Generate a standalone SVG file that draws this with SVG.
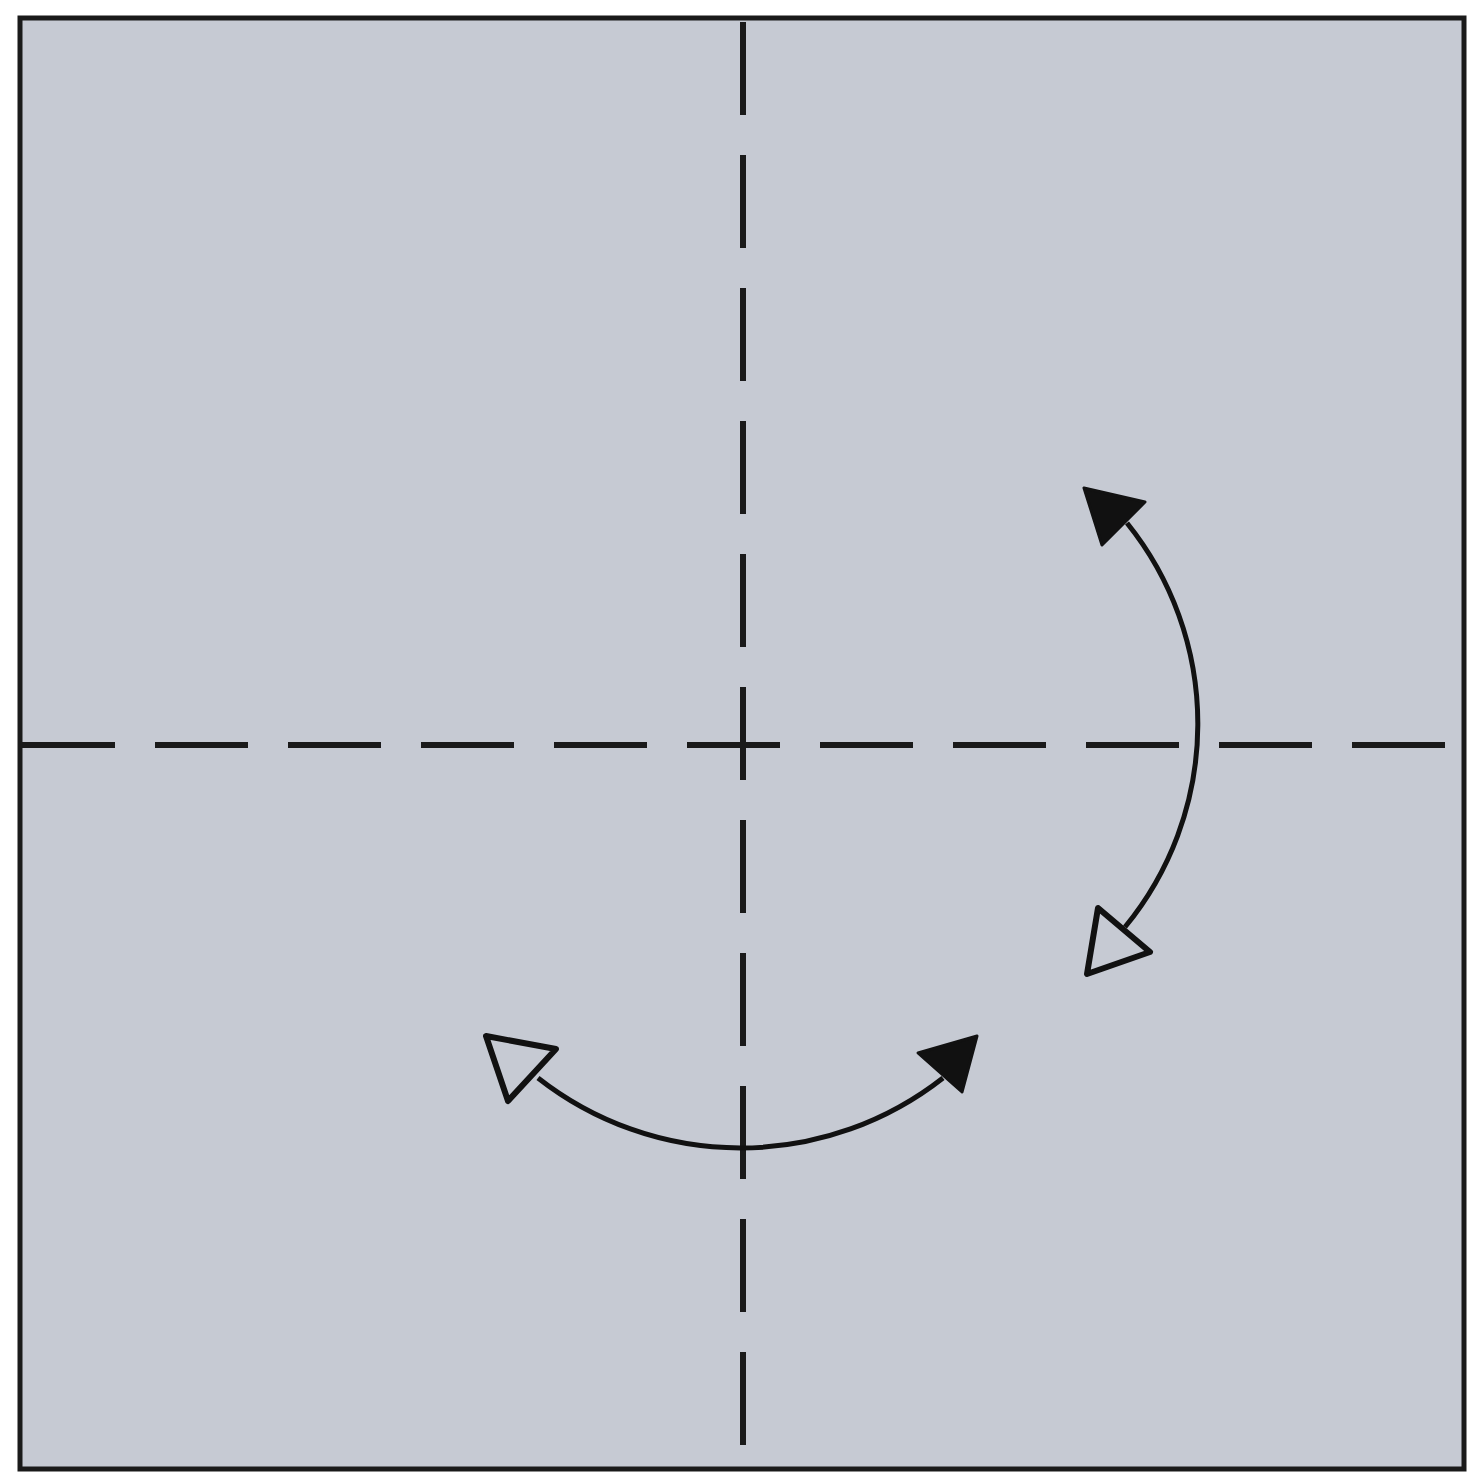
<svg xmlns="http://www.w3.org/2000/svg" width="1468" height="1477" viewBox="0 0 1468 1477">
  <style>
    .crease { stroke: #1a1a1a; stroke-width: 6; fill: none; stroke-dasharray: 93 40; }
    .arc { stroke: #111; stroke-width: 5; fill: none; }
    .head-filled { fill: #111; stroke: #111; stroke-width: 3; stroke-linejoin: round; }
    .head-hollow { fill: #c6cad3; stroke: #111; stroke-width: 6; stroke-linejoin: round; }
  </style>
  <rect x="0" y="0" width="1468" height="1477" fill="#ffffff"/>
  <g id="paper">
    <rect x="20" y="18" width="1444" height="1451" fill="#c6cad3" stroke="#1a1a1a" stroke-width="5"/>
  </g>
  <g id="creases">
    <line class="crease" x1="22" y1="745" x2="1445" y2="745"/>
    <line class="crease" x1="743" y1="22" x2="743" y2="1446"/>
  </g>
  <g id="connectors">
    <g id="arrow-right">
      <path class="arc" d="M1127,523 A320,320 0 0 1 1125,927"/>
      <polygon class="head-filled" points="1084,488 1145,502 1102,545"/>
      <polygon class="head-hollow" points="1098,908 1150,952 1087,974"/>
    </g>
    <g id="arrow-bottom">
      <path class="arc" d="M538,1078 A328,328 0 0 0 943,1078"/>
      <polygon class="head-hollow" points="486,1036 556,1049 508,1101"/>
      <polygon class="head-filled" points="918,1053 977,1036 962,1092"/>
    </g>
  </g>
</svg>
